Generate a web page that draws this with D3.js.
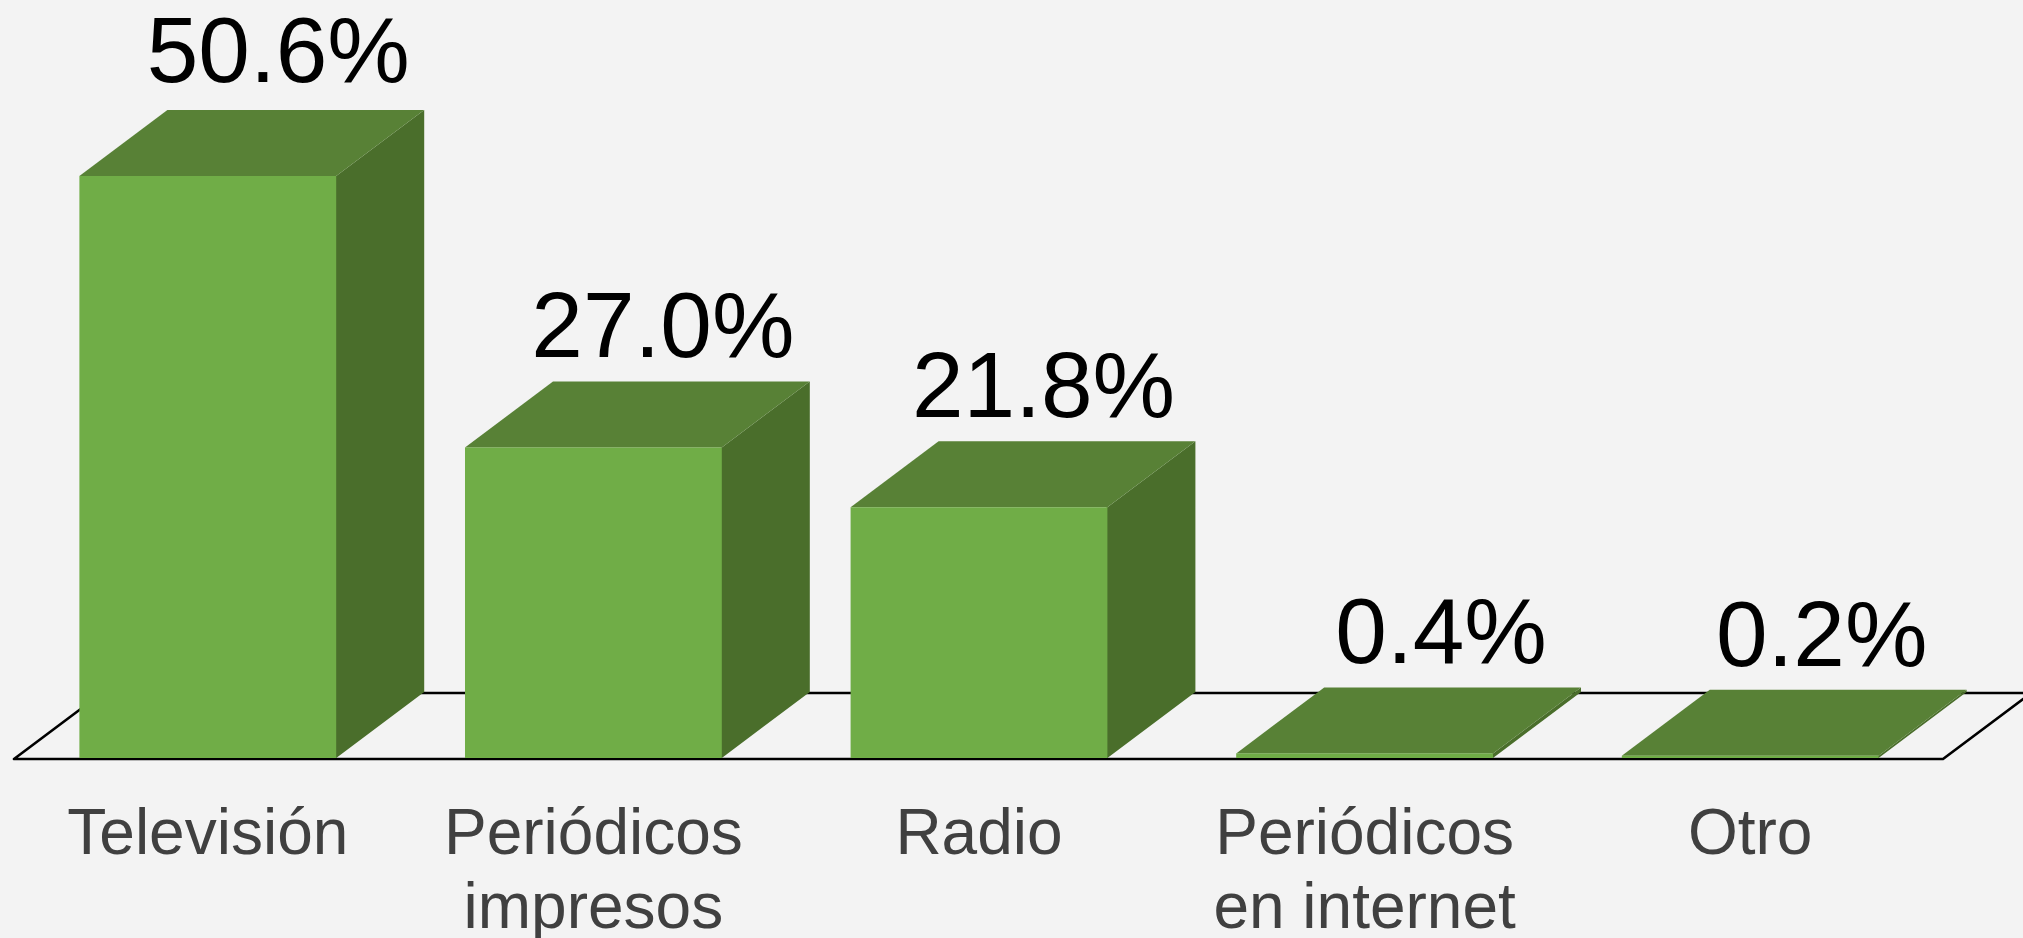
<!DOCTYPE html>
<html>
<head>
<meta charset="utf-8">
<script src="https://cdn.jsdelivr.net/npm/d3@7"></script>
<style>
    html, body { margin: 0; padding: 0; background: #f3f3f3; overflow: hidden; }
    svg { display: block; font-family: "Liberation Sans", Arial, sans-serif; }
</style>
</head>
<body>
<div id="chart"></div>
<script>
var categories = ["Televisión", "Periódicos impresos", "Radio", "Periódicos en internet", "Otro"];
var values = [50.6, 27.0, 21.8, 0.4, 0.2];

var w = 2023,
    h = 938,
    margin = {
        top: 176,
        bottom: 180,
        left: 15,
        right: 80
    };

var width = w - margin.left - margin.right,
    height = h - margin.top - margin.bottom;

// oblique depth of the 3d box
var depth = {x: 88, y: -66};

var svg = d3.select("#chart").append("svg")
    .attr("width", w)
    .attr("height", h);

var chart = svg.append("g")
    .attr("transform", "translate(" + margin.left + "," + margin.top + ")");

var x = d3.scaleBand()
        .domain(categories)
        .range([0, width])
        .paddingInner(0.334)
        .paddingOuter(0.167),
    y = d3.scaleLinear()
        .domain([0, 50.6])
        .range([height, 0]);

var format = d3.format(".1f");

function poly(points) {
    return "M" + points.map(function (p) {
        return p[0] + "," + p[1];
    }).join("L") + "Z";
}

//the floor
chart.append("path")
    .attr("d", poly([
        [-1, height + 1],
        [width, height + 1],
        [width + depth.x, height + 1 + depth.y],
        [depth.x - 1, height + 1 + depth.y]
    ]))
    .attr("fill", "none")
    .attr("stroke", "#000")
    .attr("stroke-linejoin", "round")
    .attr("stroke-width", 2.6);

//the boxes
var bars = chart.selectAll(".bar")
    .data(categories)
    .enter()
    .append("g")
    .classed("bar", true);

//side starts 1px under the front face so the floor line can't show in the seam
bars.append("path")
    .attr("fill", "#4a6e2b")
    .attr("d", function (d, i) {
        var x1 = x(d) + x.bandwidth();
        return poly([
            [x1 - 1, y(values[i])],
            [x1, y(values[i])],
            [x1 + depth.x, y(values[i]) + depth.y],
            [x1 + depth.x, y(0) + depth.y],
            [x1, y(0)],
            [x1 - 1, y(0)]
        ]);
    });

bars.append("path")
    .attr("fill", "#588136")
    .attr("d", function (d, i) {
        var x0 = x(d), x1 = x0 + x.bandwidth();
        return poly([
            [x0, y(values[i])],
            [x1, y(values[i])],
            [x1 + depth.x, y(values[i]) + depth.y],
            [x0 + depth.x, y(values[i]) + depth.y]
        ]);
    });

bars.append("rect")
    .attr("fill", "#70ad47")
    .attr("x", function (d) { return x(d); })
    .attr("y", function (d, i) { return y(values[i]); })
    .attr("width", x.bandwidth())
    .attr("height", function (d, i) { return y(0) - y(values[i]); });

//value labels, Excel placed these a bit unevenly
var labelShift = [71, 70, 65, 77, 72];
var labelLift = [28, 24, 24, 24, 24];

bars.append("text")
    .attr("x", function (d, i) { return x(d) + x.bandwidth() / 2 + labelShift[i] - 0.5; })
    .attr("y", function (d, i) { return y(values[i]) + depth.y - labelLift[i]; })
    .attr("text-anchor", "middle")
    .attr("font-size", 92.8)
    .attr("fill", "#000")
    .text(function (d, i) { return format(values[i]) + "%"; });

//category axis, labels wrap onto two lines
var xAxis = d3.axisBottom(x).tickSize(0).tickPadding(0);

var axis = chart.append("g")
    .attr("transform", "translate(0," + height + ")")
    .call(xAxis);

axis.select(".domain").remove();

var lineBreaks = {
    "Periódicos impresos": ["Periódicos", "impresos"],
    "Periódicos en internet": ["Periódicos", "en internet"]
};

axis.selectAll(".tick text")
    .attr("font-family", "\"Liberation Sans\", Arial, sans-serif")
    .attr("font-size", 64)
    .attr("fill", "#404040")
    .attr("y", 0)
    .attr("dy", null)
    .each(function (d) {
        var lines = lineBreaks[d] || [d];
        var t = d3.select(this).text("");
        lines.forEach(function (line, i) {
            t.append("tspan")
                .attr("x", 0)
                .attr("y", 96 + i * 74)
                .text(line);
        });
    });
</script>
</body>
</html>
